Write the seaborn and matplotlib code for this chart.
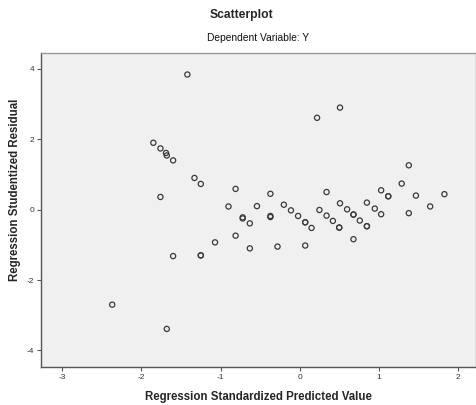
import matplotlib
matplotlib.use("Agg")
import matplotlib.pyplot as plt
import pandas as pd
import seaborn as sns

# Regression standardized predicted value (x) and studentized residual (y)
pred = [-1.42, -1.85, -1.76, -1.69, -1.68, -1.60, -1.33, -1.25, -1.76, -0.81,
        -0.90, -0.54, -0.72, -0.72, -0.63, -0.81, -1.07, -0.63, -1.60, -1.25,
        -1.25, -2.37, -1.68, 0.22, 0.51, 1.38, 1.29, -0.37, -0.37, -0.37,
        -0.20, -0.11, -0.02, 0.34, 0.25, 0.34, 0.51, 0.60, 0.68, 0.68,
        0.85, 0.95, 1.03, 1.12, 1.12, 1.47, 1.65, 1.83, 1.03, 1.38,
        -0.28, 0.07, 0.07, 0.15, 0.07, 0.42, 0.50, 0.50, 0.68, 0.76,
        0.85, 0.85]
resid = [3.84, 1.90, 1.74, 1.61, 1.54, 1.40, 0.90, 0.73, 0.36, 0.59,
         0.09, 0.10, -0.22, -0.25, -0.39, -0.74, -0.93, -1.10, -1.32, -1.30,
         -1.30, -2.70, -3.39, 2.61, 2.90, 1.26, 0.74, 0.45, -0.18, -0.21,
         0.14, -0.02, -0.18, 0.50, -0.01, -0.17, 0.18, 0.01, -0.14, -0.14,
         0.20, 0.03, 0.55, 0.38, 0.38, 0.40, 0.09, 0.44, -0.13, -0.10,
         -1.05, -0.36, -0.36, -0.52, -1.02, -0.32, -0.51, -0.51, -0.84, -0.31,
         -0.47, -0.47]
x_ticks = [-3, -2, -1, 0, 1, 2]
y_ticks = [-4, -2, 0, 2, 4]

df = pd.DataFrame({"Regression Standardized Predicted Value": pred,
                   "Regression Studentized Residual": resid})

sns.set_theme(style="white")
plt.rcParams["font.family"] = ["Liberation Sans", "DejaVu Sans"]
plt.rcParams["axes.unicode_minus"] = False

fig = plt.figure(figsize=(4.77, 4.05), dpi=100)
ax = fig.add_axes([0.086, 0.094, 0.912, 0.775])
ax.set_facecolor("#f0f0f0")

sns.scatterplot(data=df, x="Regression Standardized Predicted Value",
                y="Regression Studentized Residual", ax=ax, marker="o",
                s=14, facecolor="none", edgecolor="#3a3a3a", linewidth=0.9)

ax.set_xlim(-3.27, 2.23)
ax.set_ylim(-4.47, 4.45)
ax.set_xticks(x_ticks)
ax.set_yticks(y_ticks)
ax.tick_params(axis="both", labelsize=6, labelcolor="#333333", length=3,
               width=0.8, color="#555555", pad=2, direction="out")
ax.tick_params(bottom=True, left=True)

for side in ["left", "bottom"]:
    ax.spines[side].set_color("#555555")
    ax.spines[side].set_linewidth(1.0)
for side in ["top", "right"]:
    ax.spines[side].set_color("#999999")
    ax.spines[side].set_linewidth(1.0)

ax.set_xlabel("Regression Standardized Predicted Value", fontsize=8.3,
              fontweight="bold", labelpad=7)
ax.set_ylabel("Regression Studentized Residual", fontsize=8.3,
              fontweight="bold")
ax.yaxis.set_label_coords(-0.045, 0.564)

fig.text(0.506, 0.962, "Scatterplot", ha="center", va="center", fontsize=8.7,
         fontweight="bold")
fig.text(0.542, 0.907, "Dependent Variable: Y", ha="center", va="center",
         fontsize=7.4, color="#111111")

fig.savefig("out.png", dpi=100)
